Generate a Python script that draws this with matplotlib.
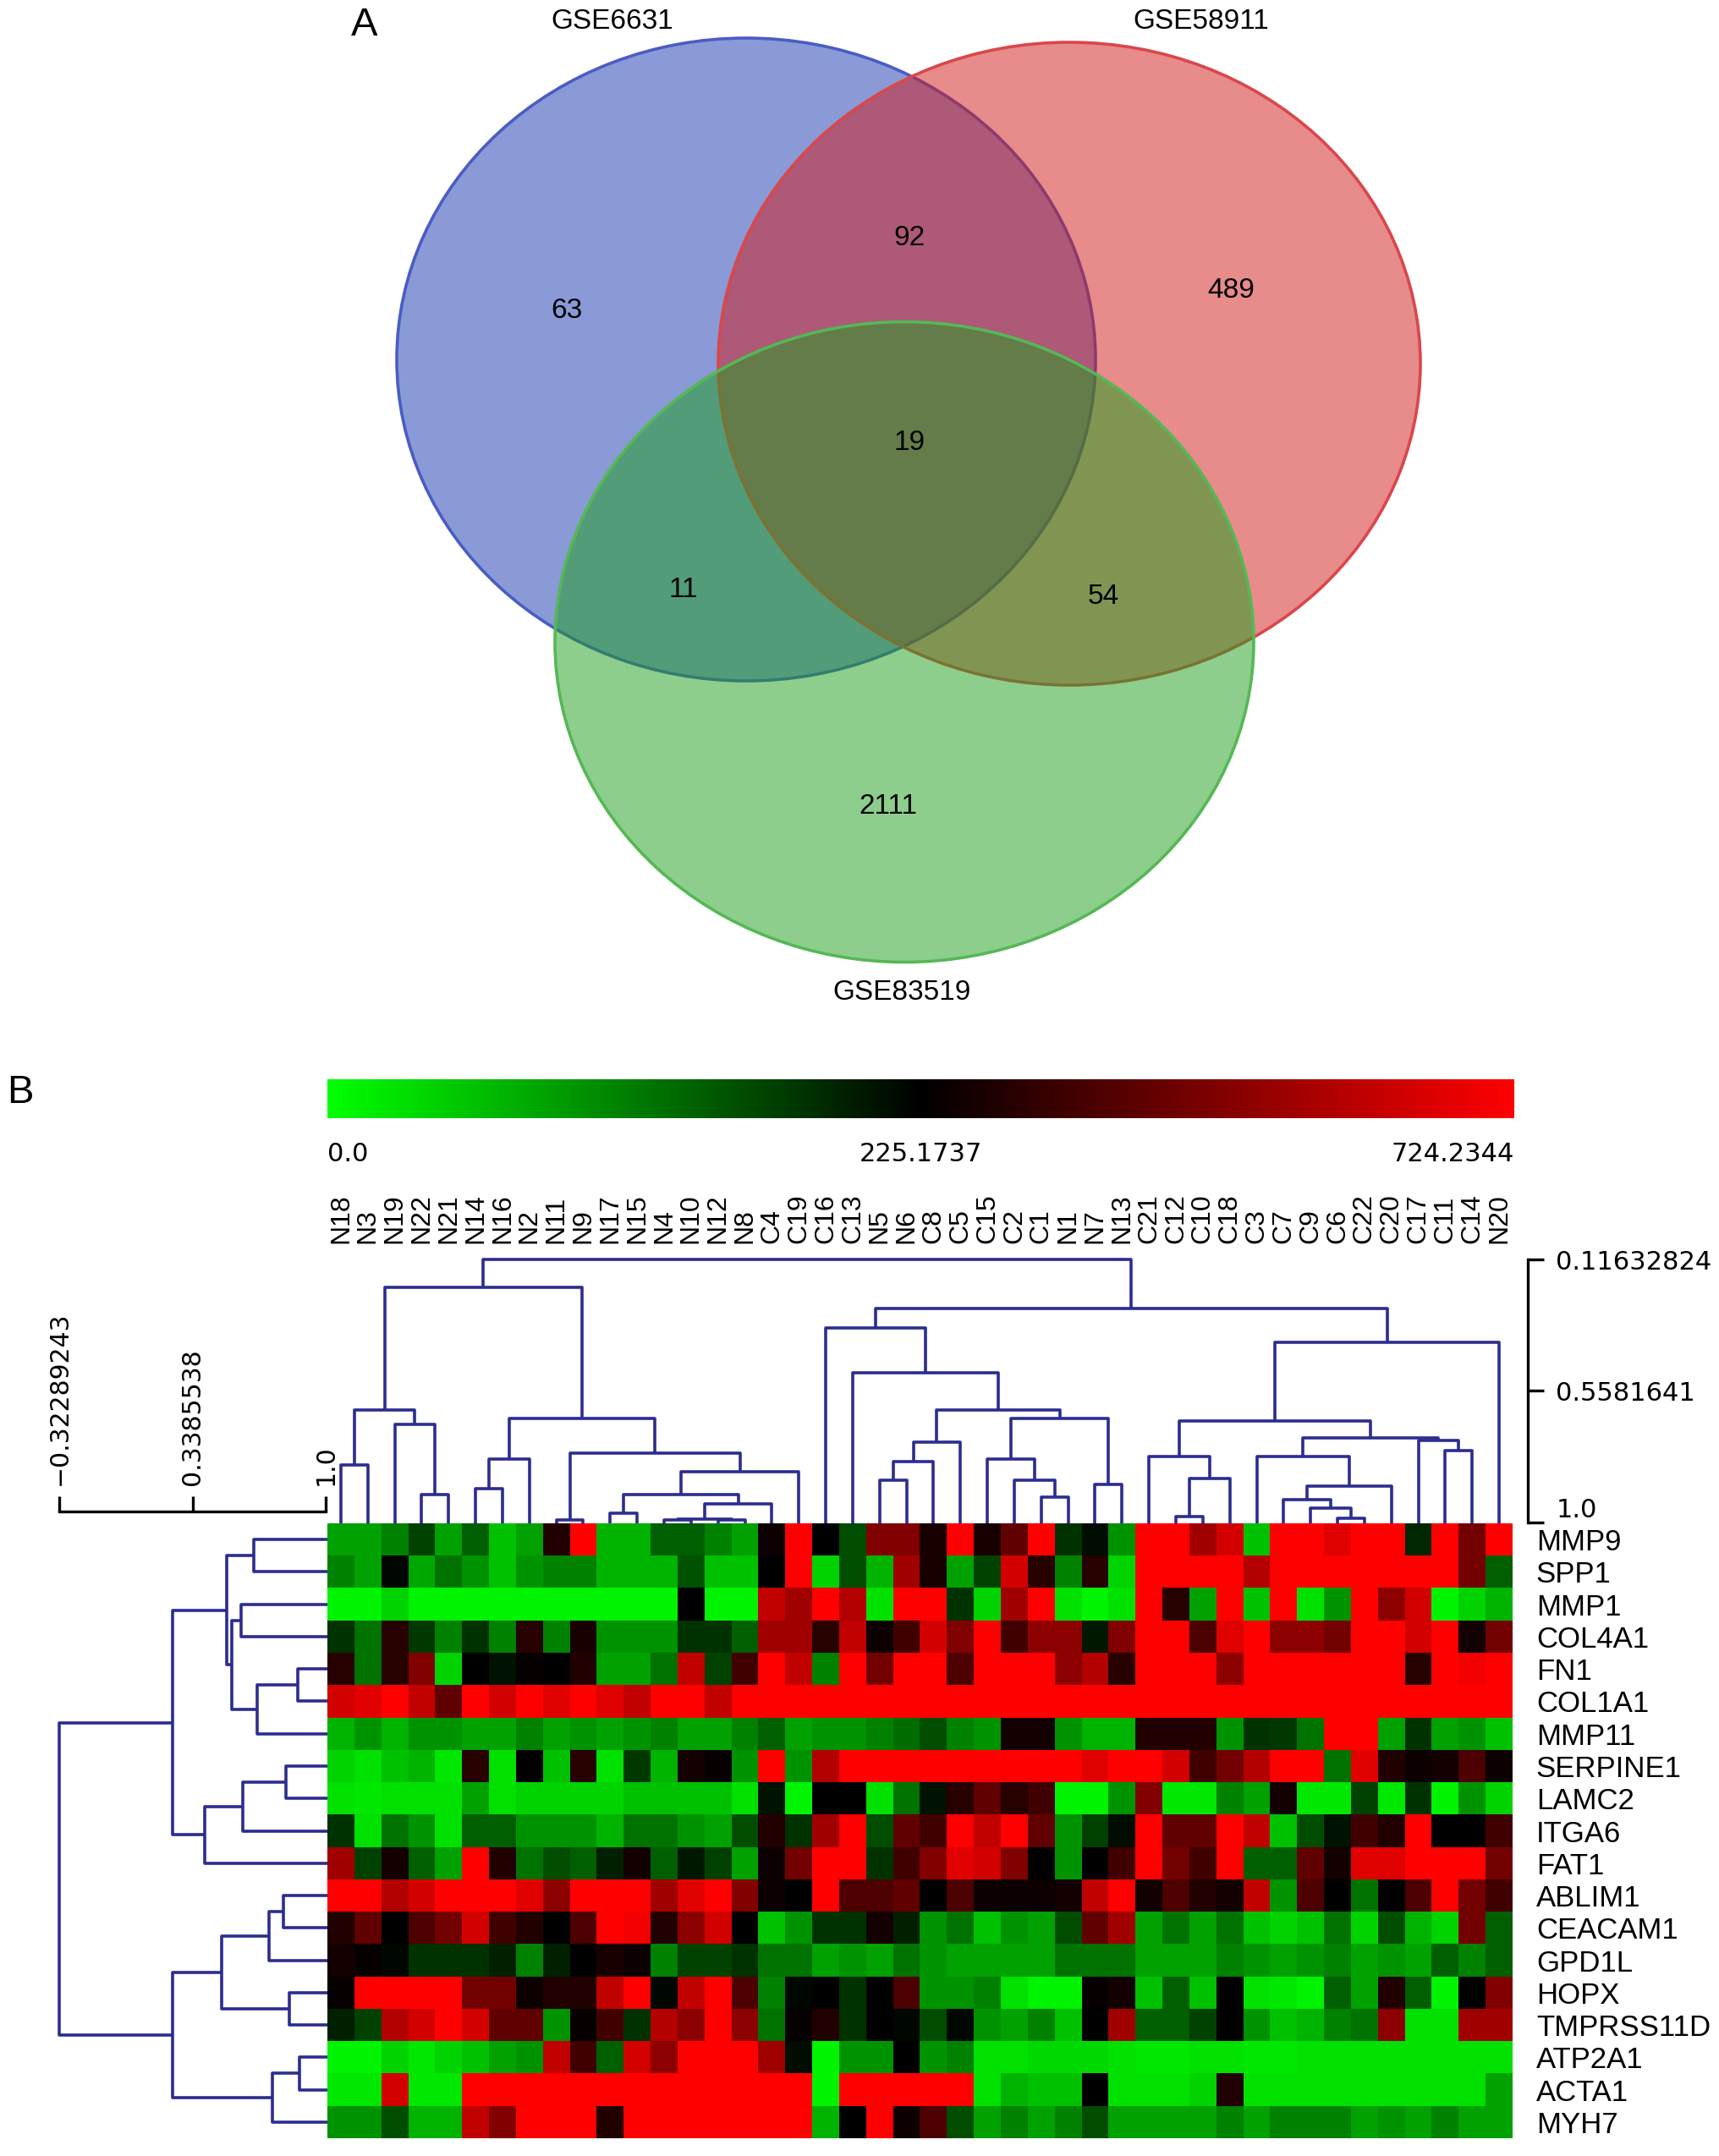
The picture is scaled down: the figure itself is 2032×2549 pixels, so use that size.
import matplotlib
matplotlib.use('Agg')
import matplotlib.pyplot as plt
import numpy as np
from matplotlib.patches import Ellipse
from matplotlib.colors import LinearSegmentedColormap, TwoSlopeNorm

plt.rcParams['font.family'] = ['Liberation Sans', 'DejaVu Sans']

W, H = 2032, 2549


def box(x, y, w, h):
    # pixel box (top-left origin) -> figure fraction
    return [x / W, 1 - (y + h) / H, w / W, h / H]


# ---------------- panel A: Venn ----------------
venn_sets = ['GSE6631', 'GSE58911', 'GSE83519']
venn_counts = {'100': 63, '010': 489, '001': 2111,
               '110': 92, '101': 11, '011': 54, '111': 19}

# ---------------- panel B: heatmap ----------------
samples = ['N18', 'N3', 'N19', 'N22', 'N21', 'N14', 'N16', 'N2', 'N11', 'N9', 'N17',
           'N15', 'N4', 'N10', 'N12', 'N8', 'C4', 'C19', 'C16', 'C13', 'N5', 'N6',
           'C8', 'C5', 'C15', 'C2', 'C1', 'N1', 'N7', 'N13', 'C21', 'C12', 'C10',
           'C18', 'C3', 'C7', 'C9', 'C6', 'C22', 'C20', 'C17', 'C11', 'C14', 'N20']
genes = ['MMP9', 'SPP1', 'MMP1', 'COL4A1', 'FN1', 'COL1A1', 'MMP11', 'SERPINE1',
         'LAMC2', 'ITGA6', 'FAT1', 'ABLIM1', 'CEACAM1', 'GPD1L', 'HOPX',
         'TMPRSS11D', 'ATP2A1', 'ACTA1', 'MYH7']

# colour level read per cell: -4 = bright green (0.0), 0 = black (225.17), 4 = bright red (724.23)
levels = {
    'MMP9': [-2.5, -2.5, -2, -1, -2.5, -1.5, -3, -2.5, 0.5, 4, -2.8, -2.8, -1.5, -1.5, -2, -2.5, 0.2, 4, 0, -1.2, 2, 2,
             0.4, 4, 0.4, 1.5, 4, -0.8, -0.2, -2.3, 4, 4, 2.5, 3.3, -3, 4, 4, 3.5, 4, 4, -0.6, 4, 1.8, 4],
    'SPP1': [-2, -2.5, -0.1, -2.6, -1.8, -2.3, -3, -2.3, -2, -2, -2.8, -2.8, -2.8, -1.3, -3, -3, 0, 4, -3.3, -1.2, -2.8, 2.5,
             0.4, -2.5, -1, 3.3, 0.6, -2, 0.6, -3.3, 4, 4, 4, 4, 2.8, 4, 4, 4, 4, 4, 4, 4, 1.8, -1.5],
    'MMP1': [-3.8, -3.8, -3.3, -3.8, -3.8, -3.8, -3.8, -3.8, -3.8, -3.8, -3.8, -3.8, -3.8, 0, -3.8, -3.8, 3, 2.5, 4, 2.8, -3.5, 4,
             4, -0.8, -3.3, 2.5, 4, -3.5, -3.8, -3.5, 4, 0.6, -2.5, 4, -3, 4, -3.5, -2.3, 4, 2.2, 3.3, -3.8, -3.3, -2.8],
    'COL4A1': [-0.8, -1.8, 0.6, -0.9, -2, -0.8, -2, 0.6, -2, 0.4, -2.3, -2.3, -2.3, -0.8, -0.8, -1.5, 2.5, 2.5, 0.6, 3, 0.2, 1,
               3.3, 2, 4, 1, 2.2, 2.2, -0.4, 2, 4, 4, 1.2, 3.5, 4, 2.2, 2.2, 1.8, 4, 4, 3.3, 4, 0.3, 1.8],
    'FN1': [0.6, -1.8, 0.6, 2, -3.3, 0, -0.3, 0.1, 0, 0.5, -2.5, -2.5, -1.8, 3, -1, 1, 4, 3, -2, 4, 1.8, 4,
            4, 1.2, 4, 4, 4, 2.2, 2.8, 0.6, 4, 4, 4, 2.2, 4, 4, 4, 4, 4, 4, 0.6, 4, 3.8, 4],
    'COL1A1': [3.3, 3.5, 4, 3, 1.5, 4, 3.3, 4, 3.5, 4, 3.5, 3, 4, 4, 3, 4, 4, 4, 4, 4, 4, 4,
               4, 4, 4, 4, 4, 4, 4, 4, 4, 4, 4, 4, 4, 4, 4, 4, 4, 4, 4, 4, 4, 4],
    'MMP11': [-2.8, -2.3, -2.8, -2.3, -2.3, -2.5, -2.5, -2, -2.5, -2.3, -2.5, -2.3, -2, -2.5, -2.5, -2, -1.5, -2.5, -2.3, -2.3, -2, -1.7,
              -1.2, -2, -2.3, 0.3, 0.3, -2.3, -2.8, -2.8, 0.5, 0.5, 0.5, -2.3, -0.8, -0.9, -1.8, 4, 4, -2.5, -0.8, -2.5, -2.3, -3],
    'SERPINE1': [-3.3, -3.5, -3, -2.8, -3.6, 0.6, -3.5, 0, -3, 0.6, -3.5, -0.9, -2.8, 0.3, 0.1, -2.3, 4, -2.3, 2.8, 4, 4, 4,
                 4, 4, 4, 4, 4, 4, 3.5, 4, 4, 3.3, 1, 1.8, 2.8, 4, 4, -1.8, 3.5, 0.5, 0.2, 0.3, 1.2, 0.2],
    'LAMC2': [-3.5, -3.6, -3.5, -3.5, -3.5, -2.5, -3.5, -3.3, -3.3, -3.3, -3.3, -3, -3, -3, -3, -3.5, -0.3, -3.8, 0, 0, -3.5, -1.8,
              -0.3, 0.6, 1.5, 0.6, 1, -3.8, -3.8, -2.3, 2, -3.6, -3.6, -2, -2.5, 0.3, -3.6, -3.6, -1, -3.6, -0.8, -3.8, -2.3, -3.3],
    'ITGA6': [-0.8, -3.5, -1.8, -2.3, -3.5, -1.5, -1.5, -2.3, -2.3, -2.3, -2.8, -1.8, -1.8, -2.3, -2.5, -1.2, 0.5, -0.8, 2.5, 4, -1.2, 1.5,
              1, 4, 3, 4, 1.5, -2.3, -1, -0.2, 4, 1.5, 1.5, 4, 3, -3, -1.2, -0.3, 1, 0.5, 4, 0, 0, 1],
    'FAT1': [2.5, -1, 0.3, -1.5, -2.5, 4, 0.5, -1.8, -1.2, -1.5, -0.5, 0.3, -1.5, -0.4, -1, -2.5, 0.2, 1.8, 4, 4, -0.8, 1,
             2, 3.5, 3.3, 2, 0, -2.3, 0, 1, 4, 1.8, 1, 4, -1.5, -1.5, 1.5, 0.3, 3.5, 3.5, 4, 4, 4, 1.8],
    'ABLIM1': [4, 4, 2.8, 3.3, 4, 4, 4, 3.5, 2.2, 4, 4, 4, 2.5, 3.5, 4, 2, 0.2, 0, 4, 1.2, 1.2, 1.5,
               0, 1.2, 0.2, 0.2, 0.2, 0.3, 3, 4, 0.3, 1.2, 0.5, 0.3, 3, -2.3, 1.2, 0, -1.8, 0, 1.2, 4, 1.8, 1],
    'CEACAM1': [0.5, 1.5, 0, 1.2, 1.8, 3.3, 1, 0.5, 0, 1.2, 4, 3.8, 0.5, 2.2, 3.3, 0, -3, -2.3, -0.8, -0.8, 0.3, -0.5,
                -2.3, -1.8, -3, -2.3, -2.5, -1.2, 1.5, 2.5, -2.5, -1.8, -2.5, -1.8, -3, -3.3, -3, -1.8, -3.3, -1.2, -2.8, -3.3, 1.8, -1.5],
    'GPD1L': [0.3, 0.1, -0.1, -0.8, -0.8, -0.8, -0.5, -2, -0.5, 0, 0.4, 0.2, -2, -1, -1, -0.8, -1.8, -1.8, -2.5, -2.3, -2.5, -1.8,
              -2.3, -2.5, -2.5, -2.5, -2.5, -1.8, -1.8, -1.8, -2.5, -2.5, -2.5, -2, -2.3, -2.5, -2.3, -2, -2.5, -2.3, -2.5, -1.5, -2, -1.5],
    'HOPX': [0.1, 4, 4, 4, 4, 1.8, 1.8, 0.2, 0.5, 0.5, 3, 4, -0.1, 3, 4, 1.2, -2, -0.1, 0, -0.8, 0, 1.2,
             -2.3, -2.3, -2, -3.5, -3.8, -3.8, 0.1, 0.3, -3, -1.5, -3, 0, -3.5, -3.6, -3.8, -1.5, -2.5, 0.5, -1.5, -3.8, 0, 2],
    'TMPRSS11D': [-0.5, -1, 2.8, 3.3, 4, 3.3, 1.5, 1.5, -2.3, 0.1, 1, -0.8, 2.8, 2.2, 4, 2.2, -1.8, 0.1, 0.5, -0.8, 0, -0.1,
                  -1.2, -0.1, -2.3, -2.5, -2, -3, 0, 2.5, -1.5, -1.5, -1, 0, -2.3, -3, -2.8, -2, -1.8, 2.2, -3.5, -3.5, 2.5, 2.5],
    'ATP2A1': [-3.8, -3.8, -3.3, -3.6, -3.3, -3, -2.5, -2.3, 3, 1, -1.5, 3.3, 2.2, 4, 4, 4, 2.5, -0.2, -3.8, -2.3, -2.3, 0,
               -2.3, -2, -3.5, -3.5, -3.4, -3.4, -3.4, -3.5, -3.6, -3.6, -3.5, -3.5, -3.6, -3.6, -3.5, -3.5, -3.5, -3.5, -3.5, -3.5, -3.5, -3.5],
    'ACTA1': [-3.6, -3.6, 3.3, -3.6, -3.6, 4, 4, 4, 4, 4, 4, 4, 4, 4, 4, 4, 4, 4, -3.8, 4, 4, 4,
              4, 4, -3.5, -2.8, -3, -3, 0, -3.5, -3.5, -3.5, -3.3, 0.5, -3.5, -3.5, -3.5, -3.5, -3.5, -3.5, -3.5, -3.5, -3.5, -2.5],
    'MYH7': [-2.3, -2.3, -1.2, -2.8, -2.8, 3, 2, 4, 4, 4, 0.5, 4, 4, 4, 4, 4, 4, 4, -2.8, 0, 4, 0.2,
             1.2, -1.2, -2.5, -2, -2.5, -2, -1.2, -2.5, -2.5, -2.5, -2.5, -2, -2.5, -2, -2, -2, -2.5, -2.3, -2.5, -2, -2.5, -2.5],
}

cbar_ticks = [0.0, 225.1737, 724.2344]
cbar_labels = ['0.0', '225.1737', '724.2344']

# column dendrogram: (child a, child b, height); ids >= 44 refer to earlier merges
col_merges = [
    (0, 1, 0.813), (3, 4, 0.913), (2, 45, 0.676), (44, 46, 0.628),
    (5, 6, 0.894), (48, 7, 0.793), (8, 9, 1.0), (10, 11, 0.978),
    (12, 13, 1.0), (14, 15, 1.0), (52, 53, 0.997), (54, 16, 0.946),
    (51, 55, 0.913), (56, 17, 0.836), (50, 57, 0.774), (49, 58, 0.655),
    (47, 59, 0.210), (20, 21, 0.865), (61, 22, 0.803), (62, 23, 0.736),
    (26, 27, 0.923), (25, 64, 0.865), (24, 65, 0.793), (28, 29, 0.880),
    (66, 67, 0.655), (63, 68, 0.628), (19, 69, 0.502), (18, 70, 0.349),
    (31, 32, 0.989), (72, 33, 0.860), (30, 73, 0.784), (37, 38, 0.994),
    (36, 75, 0.961), (35, 76, 0.932), (77, 39, 0.884), (34, 78, 0.784),
    (41, 42, 0.765), (40, 80, 0.729), (79, 81, 0.722), (74, 82, 0.664),
    (83, 43, 0.397), (71, 84, 0.282), (60, 85, 0.11632824),
]
col_scale = [0.11632824, 0.5581641, 1.0]

# row dendrogram: ids >= 19 refer to earlier merges
row_merges = [
    (0, 1, 0.643), (2, 3, 0.580), (4, 5, 0.862), (21, 6, 0.660),
    (20, 22, 0.534), (19, 23, 0.509), (7, 8, 0.803), (25, 9, 0.588),
    (26, 10, 0.400), (24, 27, 0.240), (11, 12, 0.790), (29, 13, 0.719),
    (14, 15, 0.820), (30, 31, 0.483), (16, 17, 0.870), (33, 18, 0.736),
    (32, 34, 0.240), (28, 35, -0.32289243),
]
row_scale = [-0.32289243, 0.3385538, 1.0]
row_scale_labels = ['\u22120.32289243', '0.3385538', '1.0']

# ---------------- drawing ----------------
fig = plt.figure(figsize=(W / 100, H / 100), dpi=100)

ax_v = fig.add_axes([0, 1 - 1250 / H, 1, 1250 / H])
ax_v.set_xlim(0, W)
ax_v.set_ylim(1250, 0)
ax_v.axis('off')

circle_xy = [(882, 425), (1264, 430), (1069, 759)]
circle_wh = [(826, 760), (830, 760), (826, 757)]
fills = ['#1537b1', '#d11919', '#1d9f1d']
edges = ['#4b5cc4', '#d9474b', '#55b855']
for (cx, cy), (w, h), fc, ec in zip(circle_xy, circle_wh, fills, edges):
    e = Ellipse((cx, cy), w, h, facecolor=matplotlib.colors.to_rgba(fc, 0.5),
                edgecolor=ec, lw=2.6)
    ax_v.add_patch(e)

label_xy = [(724, 25), (1420, 25), (1066, 1174)]
for name, (x, y) in zip(venn_sets, label_xy):
    ax_v.text(x, y, name, ha='center', va='center', fontsize=24)

count_xy = {'100': (670, 368), '110': (1075, 282), '010': (1455, 344),
            '111': (1075, 524), '101': (808, 698), '011': (1304, 706),
            '001': (1050, 954)}
for key, (x, y) in count_xy.items():
    ax_v.text(x, y, str(venn_counts[key]), ha='center', va='center', fontsize=24)

fig.text(431 / W, 1 - 30 / H, 'A', ha='center', va='center', fontsize=34)
fig.text(24 / W, 1 - 1292 / H, 'B', ha='center', va='center', fontsize=34)

# heatmap
cmap = LinearSegmentedColormap.from_list('gkr', ['#00ff00', '#000000', '#ff0000'])
norm = TwoSlopeNorm(vmin=cbar_ticks[0], vcenter=cbar_ticks[1], vmax=cbar_ticks[2])
mat = np.array([levels[g] for g in genes], dtype=float)
values = np.interp(mat, [-4, 0, 4], cbar_ticks)

ax_h = fig.add_axes(box(387, 1801, 1401, 727))
ax_h.imshow(values, cmap=cmap, norm=norm, aspect='auto', interpolation='nearest')
ax_h.set_xticks([])
ax_h.set_yticks(range(len(genes)))
ax_h.set_yticklabels(genes, fontsize=25)
ax_h.yaxis.tick_right()
ax_h.tick_params(axis='y', length=0, pad=20)
for s in ax_h.spines.values():
    s.set_visible(False)

dcol = '#2b2d8f'


def draw_dendro(ax, merges, n, leaf_h, vertical):
    pos = {i: (float(i), leaf_h) for i in range(n)}
    for k, (a, b, h) in enumerate(merges):
        xa, ha = pos[a]
        xb, hb = pos[b]
        xs = [xa, xa, xb, xb]
        hs = [ha, h, h, hb]
        if vertical:
            ax.plot(xs, hs, color=dcol, lw=2.6, clip_on=False, solid_capstyle='butt')
        else:
            ax.plot(hs, xs, color=dcol, lw=2.6, clip_on=False, solid_capstyle='butt')
        pos[n + k] = ((xa + xb) / 2, h)


# column dendrogram + sample labels
ax_cd = fig.add_axes(box(387, 1489, 1401, 312))
ax_cd.set_xlim(-0.5, len(samples) - 0.5)
ax_cd.set_ylim(1.0115, 0.11632824)
draw_dendro(ax_cd, col_merges, len(samples), 1.0115, True)
for s in ax_cd.spines.values():
    s.set_visible(False)
ax_cd.set_yticks([])
ax_cd.set_xticks(range(len(samples)))
ax_cd.set_xticklabels(samples, rotation=90, fontsize=23)
ax_cd.tick_params(axis='x', top=True, labeltop=True, bottom=False, labelbottom=False,
                  length=0, pad=14)

# row dendrogram
ax_rd = fig.add_axes(box(70, 1801, 317, 727))
ax_rd.set_xlim(-0.32289243, 1.0085)
ax_rd.set_ylim(len(genes) - 0.5, -0.5)
draw_dendro(ax_rd, row_merges, len(genes), 1.0085, False)
ax_rd.axis('off')

# row dendrogram scale (top-left)
ax_rs = fig.add_axes(box(70, 1787, 315, 1))
ax_rs.set_xlim(row_scale[0], row_scale[-1])
for side in ['left', 'right', 'bottom']:
    ax_rs.spines[side].set_visible(False)
ax_rs.spines['top'].set_linewidth(2.4)
ax_rs.set_yticks([])
ax_rs.xaxis.tick_top()
ax_rs.set_xticks(row_scale)
ax_rs.set_xticklabels(row_scale_labels, rotation=90, family='DejaVu Sans', fontsize=21.5)
ax_rs.tick_params(axis='x', direction='out', length=13, width=2.4, pad=9)

# column dendrogram scale (right)
ax_cs = fig.add_axes(box(1805, 1489, 1, 311))
ax_cs.set_ylim(1.0, 0.11632824)
for side in ['left', 'top', 'bottom']:
    ax_cs.spines[side].set_visible(False)
ax_cs.spines['right'].set_linewidth(2.4)
ax_cs.set_xticks([])
ax_cs.yaxis.tick_right()
ax_cs.set_yticks(col_scale)
ax_cs.set_yticklabels([str(v) for v in col_scale], family='DejaVu Sans', fontsize=22)
ax_cs.tick_params(axis='y', direction='out', length=14, width=2.4, pad=10)
ax_cs.get_yticklabels()[-1].set_va('bottom')

# colour bar
cax = fig.add_axes(box(387, 1276, 1403, 46))
grad = np.linspace(0, 1, 512)[None, :]
cax.imshow(grad, cmap=cmap, aspect='auto', extent=[0, 1, 0, 1])
cax.set_xlim(0, 1)
cax.set_yticks([])
cax.set_xticks([float(norm(t)) for t in cbar_ticks])
cax.set_xticklabels(cbar_labels, family='DejaVu Sans', fontsize=22)
cax.tick_params(axis='x', length=0, pad=20)
for lab, ha in zip(cax.get_xticklabels(), ['left', 'center', 'right']):
    lab.set_ha(ha)
for s in cax.spines.values():
    s.set_visible(False)

fig.savefig('out.png', dpi=100, facecolor='white')
